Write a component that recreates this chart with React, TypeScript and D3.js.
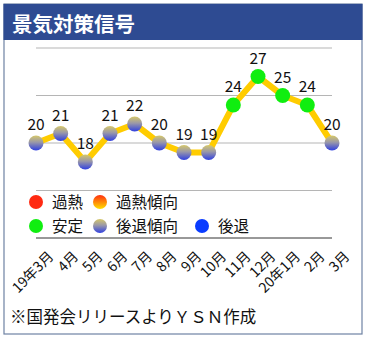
import React from "react";
import * as d3 from "d3";

const months = ["19年3月", "4月", "5月", "6月", "7月", "8月", "9月", "10月", "11月", "12月", "20年1月", "2月", "3月"];
const values = [20, 21, 18, 21, 22, 20, 19, 19, 24, 27, 25, 24, 20];
const signals = ["後退傾向", "後退傾向", "後退傾向", "後退傾向", "後退傾向", "後退傾向", "後退傾向", "後退傾向", "安定", "安定", "安定", "安定", "後退傾向"];
const gridTicks = [10, 15, 20, 25, 30];
const legendRow1 = ["過熱", "過熱傾向"];
const legendRow2 = ["安定", "後退傾向", "後退"];

const W = 367;
const H = 339;
const FONT = "'Noto Sans CJK JP', 'Noto Sans', sans-serif";

const fillFor = (s: string) => {
  switch (s) {
    case "過熱": return "#FF2A12";
    case "過熱傾向": return "url(#gHot)";
    case "安定": return "#10EE10";
    case "後退傾向": return "url(#gCool)";
    case "後退": return "#0A3CFF";
  }
  return "#999";
};

export default function App() {
  const x = d3.scalePoint<string>().domain(months).range([36, 332]).padding(0);
  const y = d3.scaleLinear().domain([10, 30]).range([238, 48]);
  const line = d3.line<number>().x((_, i) => x(months[i]) as number).y((d) => y(d));

  const legendX1 = [36, 100];
  const legendX2 = [36, 100, 202];

  return (
    <svg width={W} height={H} style={{ position: "absolute", left: 0, top: 0, background: "#fff" }} fontFamily={FONT}>
      <defs>
        <linearGradient id="gCool" x1="0" y1="0" x2="0" y2="1">
          <stop offset="0%" stopColor="#D6C86A" />
          <stop offset="45%" stopColor="#9A98A8" />
          <stop offset="100%" stopColor="#3040E0" />
        </linearGradient>
        <linearGradient id="gHot" x1="0" y1="0" x2="0" y2="1">
          <stop offset="0%" stopColor="#FF3010" />
          <stop offset="100%" stopColor="#FFE000" />
        </linearGradient>
      </defs>
      <rect x={4} y={4} width={358} height={330} fill="#fff" stroke="#6E82A3" strokeWidth={1.2} />
      <rect x={3.5} y={4} width={359} height={36} fill="#2E4B92" />
      <text x={12} y={32} fill="#fff" fontSize={20.5} fontWeight="bold">景気対策信号</text>

      {gridTicks.map((t) => (
        <line key={t} x1={36} x2={332} y1={y(t)} y2={y(t)} stroke={t === 10 ? "#333" : "#B5B5B5"} strokeWidth={1} />
      ))}

      <path d={line(values) || ""} fill="none" stroke="#FFCC00" strokeWidth={6} strokeLinejoin="round" />
      {values.map((v, i) => (
        <g key={i}>
          <circle cx={x(months[i])} cy={y(v)} r={7.5} fill={fillFor(signals[i])} />
          <text x={x(months[i])} y={y(v) - 13} textAnchor="middle" fontSize={15.5} fill="#111">{v}</text>
        </g>
      ))}

      {legendRow1.map((s, i) => (
        <g key={s}>
          <circle cx={legendX1[i]} cy={202} r={7} fill={fillFor(s)} />
          <text x={legendX1[i] + 16} y={207.5} fontSize={15.5} fill="#111">{s}</text>
        </g>
      ))}
      {legendRow2.map((s, i) => (
        <g key={s}>
          <circle cx={legendX2[i]} cy={226} r={7} fill={fillFor(s)} />
          <text x={legendX2[i] + 16} y={231.5} fontSize={15.5} fill="#111">{s}</text>
        </g>
      ))}

      {months.map((m) => (
        <text key={m} transform={`translate(${(x(m) as number) + 10},${249}) rotate(-45)`} textAnchor="end" dy="0.85em" fontSize={14} fill="#111">{m}</text>
      ))}

      <text x={10} y={323} fontSize={16.5} fill="#111">※国発会リリースよりＹＳＮ作成</text>
    </svg>
  );
}
